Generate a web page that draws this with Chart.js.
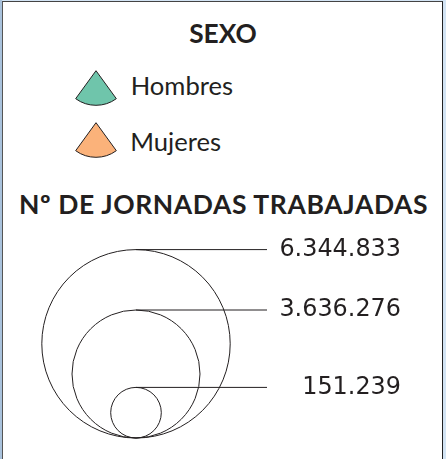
<!DOCTYPE html>
<html lang="es">
<head>
<meta charset="utf-8">
<script src="https://cdn.jsdelivr.net/npm/chart.js@4.4.1/dist/chart.umd.min.js"></script>
<style>
  html,body{margin:0;padding:0;}
  body{width:446px;height:459px;overflow:hidden;position:relative;background:#d3e4f4;}
  #strip{position:absolute;left:0;top:0;width:2px;height:459px;background:#a9c2dc;}
  #frame{position:absolute;left:2px;top:1px;width:439px;height:470px;background:#fff;
         border-left:1px solid #555;border-top:1px solid #444;border-right:1px solid #222;}
  .txt{position:absolute;white-space:nowrap;color:#231f20;font-family:Lato,"Noto Sans",sans-serif;line-height:1.2;}
  .bl{display:inline-block;width:0;height:0;}
  canvas{position:absolute;}
</style>
</head>
<body>
<div id="strip"></div>
<div id="frame"></div>

<div class="txt" id="tSexo" style="font-weight:700;font-size:26.3px;width:446px;text-align:center;">SEXO<span class="bl"></span></div>
<div class="txt" id="tCat0" style="font-size:25.6px;"><span class="bl"></span></div>
<div class="txt" id="tCat1" style="font-size:25.6px;"><span class="bl"></span></div>
<div class="txt" id="tJorn" style="font-weight:700;font-size:26.5px;letter-spacing:0.6px;">Nº DE JORNADAS TRABAJADAS<span class="bl"></span></div>

<canvas id="wedge0" width="50" height="44" style="left:71px;top:66px"></canvas>
<canvas id="wedge1" width="50" height="44" style="left:71px;top:118px"></canvas>
<canvas id="bubbles" width="401" height="226" style="left:0;top:222px"></canvas>

<script>
// ---- data ----
const sexCategories = ['Hombres', 'Mujeres'];
const sexColors = ['#6fc5ab', '#fbb27a'];
const jornadasValues = [6344833, 3636276, 151239];
const jornadasTickLabels = ['6.344.833', '3.636.276', '151.239'];

// ---- legend symbol geometry (drawing config, not data) ----
const symbolRadiusPx = [94.2, 64, 25.3];
const ink = '#231f20';

// ---- text placement by baseline ----
function place(id, left, baseline, text) {
  const el = document.getElementById(id);
  if (text !== undefined) el.insertBefore(document.createTextNode(text), el.firstChild);
  if (left !== null) el.style.left = left + 'px';
  el.style.top = '0px';
  const b = el.querySelector('.bl').getBoundingClientRect().top;
  el.style.top = (baseline - b) + 'px';
}
place('tSexo', 0, 43.3);
place('tCat0', 130.7, 95.4, sexCategories[0]);
place('tCat1', 130.2, 150.6, sexCategories[1]);
place('tJorn', 19, 214.3);

// ---- sector-shaped legend symbols (pie slices) ----
sexCategories.forEach((cat, i) => {
  new Chart(document.getElementById('wedge' + i), {
    type: 'pie',
    data: { labels: [cat], datasets: [{
      data: [1],
      backgroundColor: sexColors[i],
      borderColor: ink,
      borderWidth: 1,
      radius: 34.6,
      rotation: 144,
      circumference: 72
    }]},
    options: {
      responsive: false, animation: false, events: [],
      layout: { padding: 0 },
      plugins: { legend: { display: false }, tooltip: { enabled: false } }
    }
  });
});

// ---- proportional circles legend ----
const datasets = [{
  type: 'bubble',
  data: jornadasValues.map((v, i) => ({ x: 0, y: symbolRadiusPx[i], r: symbolRadiusPx[i] })),
  backgroundColor: 'rgba(0,0,0,0)',
  borderColor: ink,
  borderWidth: 1,
  clip: false,
  order: 2
}];
jornadasValues.forEach((v, i) => {
  datasets.push({
    type: 'line',
    data: [{ x: 0, y: 2 * symbolRadiusPx[i] }, { x: 1, y: 2 * symbolRadiusPx[i] }],
    borderColor: ink,
    borderWidth: 1,
    pointRadius: 0,
    clip: false,
    order: 1
  });
});

new Chart(document.getElementById('bubbles'), {
  type: 'bubble',
  data: { datasets },
  options: {
    responsive: false, animation: false, events: [],
    layout: { autoPadding: false, padding: { left: 5, right: 0, top: 0, bottom: 0 } },
    plugins: { legend: { display: false }, tooltip: { enabled: false } },
    scales: {
      x: { type: 'linear', min: -1, max: 1, display: false },
      y: {
        type: 'linear', position: 'right', min: -10, max: 216,
        grid: { display: false, drawTicks: false, tickLength: 0 },
        border: { display: false },
        afterBuildTicks: (scale) => {
          scale.ticks = jornadasValues.map((v, i) => ({ value: 2 * symbolRadiusPx[i] }));
        },
        afterFit: (scale) => {
          scale.paddingTop = 0;
          scale.paddingBottom = 0;
          scale.width = 134;
        },
        ticks: {
          autoSkip: false,
          padding: 14,
          crossAlign: 'far',
          color: ink,
          font: { family: '"DejaVu Sans"', size: 23.9, lineHeight: 1.2 },
          callback: (val, idx) => jornadasTickLabels[idx]
        }
      }
    }
  }
});
</script>
</body>
</html>
